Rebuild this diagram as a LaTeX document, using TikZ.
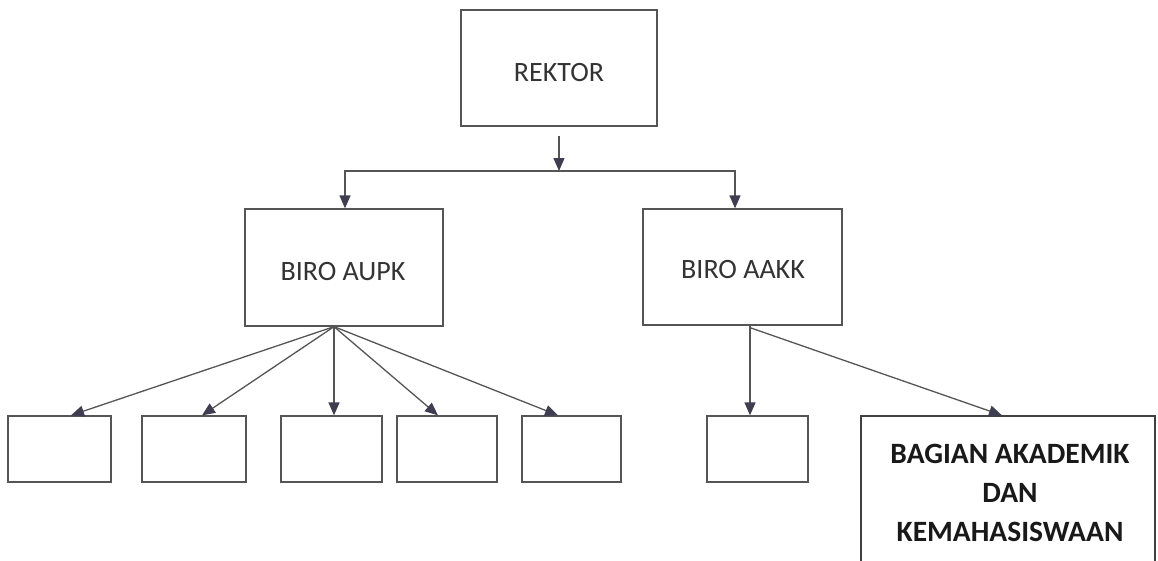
\documentclass[tikz,border=0pt]{standalone}
\usepackage{fontspec}
\setmainfont{Carlito}
\usetikzlibrary{arrows.meta,calc}
\definecolor{ln}{HTML}{555555}
\definecolor{tipc}{HTML}{3E3E50}
\definecolor{txt}{HTML}{333333}
\tikzset{
  box/.style={draw=ln, line width=1.3pt, rectangle, inner sep=0pt, fill=white},
  lbl/.style={text=txt, inner sep=0pt, font=\fontsize{28}{34}\selectfont},
  arr/.style={draw=ln, line width=1.3pt, -{Triangle[length=13pt,width=11pt,color=tipc]}},
}
\begin{document}
\begin{tikzpicture}[x=1pt,y=-1pt]
\useasboundingbox (0,0) rectangle (1158,560);
\clip (0,0) rectangle (1158,560);
% top level
\node[box, minimum width=196pt, minimum height=116pt] (rektor) at (559,68) {};
\node[lbl] (rektorT) at (559,73) {REKTOR};
% second level
\node[box, minimum width=198pt, minimum height=117pt] (aupk) at (344,267.5) {};
\node[lbl] (aupkT) at (343,272) {BIRO AUPK};
\node[box, minimum width=199pt, minimum height=116pt] (aakk) at (742.5,267) {};
\node[lbl] (aakkT) at (743,270) {BIRO AAKK};
% third level
\node[box, minimum width=103pt, minimum height=66pt] (b1) at (59.5,449) {};
\node[box, minimum width=104pt, minimum height=66pt] (b2) at (194,449) {};
\node[box, minimum width=101pt, minimum height=66pt] (b3) at (331.5,449) {};
\node[box, minimum width=100pt, minimum height=66pt] (b4) at (447,449) {};
\node[box, minimum width=99pt, minimum height=66pt] (b5) at (571.5,449) {};
\node[box, minimum width=101pt, minimum height=66pt] (b6) at (757.5,449) {};
\node[box, draw=black!75, minimum width=294pt, minimum height=154pt] (big) at (1008,493) {};
\node[inner sep=0pt, align=center, font=\fontsize{29.5}{39}\selectfont\bfseries, text=black!90] (bigT) at (1010,493) {BAGIAN AKADEMIK\\DAN\\KEMAHASISWAAN};
% connectors
\coordinate (j) at (rektor.south |- 0,171);
\draw[arr] ([yshift=-9pt]rektor.south) -- (j);
\draw[arr] (j) -| ([xshift=1pt]aupk.north);
\draw[arr] (j) -| ([xshift=-7.5pt]aakk.north);
\coordinate (ao) at ([xshift=-10pt]aupk.south);
\draw[arr] (ao) -- ([xshift=11.5pt]b1.north);
\draw[arr] (ao) -- ([xshift=8pt]b2.north);
\draw[arr] (ao) -- (ao |- b3.north);
\draw[arr] (ao) -- ([xshift=-9pt]b4.north);
\draw[arr] (ao) -- ([xshift=-13.5pt]b5.north);
\coordinate (ko) at ([xshift=7.5pt]aakk.south);
\draw[arr] (ko) -- (ko |- b6.north);
\draw[arr] ([yshift=-2pt]ko) -- ([xshift=-6pt]big.north);
\end{tikzpicture}
\end{document}
